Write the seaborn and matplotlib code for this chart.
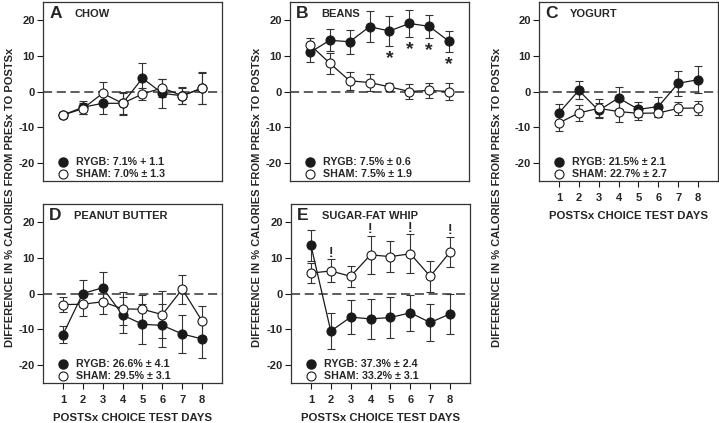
import pandas as pd
import matplotlib.pyplot as plt
import seaborn as sns

sns.set_style("ticks")
plt.rcParams['font.family'] = ['Liberation Sans', 'DejaVu Sans']
plt.rcParams['font.weight'] = 'bold'
plt.rcParams['axes.labelweight'] = 'bold'
plt.rcParams['axes.unicode_minus'] = False

days = [1, 2, 3, 4, 5, 6, 7, 8]
ylabel = "DIFFERENCE IN % CALORIES FROM PRESx TO POSTSx"
xlabel = "POSTSx CHOICE TEST DAYS"

# A - chow
chow_rygb = [-6.6, -4.4, -3.3, -3.3, 3.7, -0.5, -1.2, 0.9]
chow_rygb_sem = [0.8, 1.8, 3.0, 3.0, 4.3, 4.0, 2.4, 4.4]
chow_sham = [-6.6, -4.8, -0.5, -3.3, -0.7, 1.0, -1.2, 1.0]
chow_sham_sem = [0.8, 1.5, 3.2, 3.2, 1.8, 2.6, 2.2, 4.5]

# B - beans
beans_rygb = [10.9, 14.3, 13.9, 18.1, 16.9, 19.0, 18.2, 14.0]
beans_rygb_sem = [2.7, 3.1, 3.4, 4.3, 4.2, 3.8, 3.2, 2.9]
beans_sham = [13.1, 7.9, 3.0, 2.5, 1.3, 0.0, 0.3, 0.0]
beans_sham_sem = [1.8, 2.9, 2.5, 2.3, 1.2, 2.1, 2.0, 2.4]
beans_stars = [5, 6, 7, 8]

# C - yogurt
yog_rygb = [-6.0, 0.3, -5.3, -1.8, -5.0, -4.2, 2.3, 3.3]
yog_rygb_sem = [2.4, 2.5, 2.0, 3.0, 2.0, 2.8, 3.5, 3.8]
yog_sham = [-8.8, -6.0, -4.7, -5.6, -6.1, -6.0, -4.7, -4.6]
yog_sham_sem = [2.3, 2.3, 2.5, 3.0, 2.0, 1.2, 1.8, 2.0]

# D - peanut butter
pb_rygb = [-11.5, 0.0, 1.6, -6.0, -8.6, -8.9, -11.3, -12.7]
pb_rygb_sem = [2.3, 3.9, 4.5, 5.0, 5.6, 6.0, 5.3, 5.3]
pb_sham = [-3.1, -3.0, -2.3, -4.3, -4.4, -5.9, 1.2, -7.7]
pb_sham_sem = [2.1, 3.4, 3.3, 4.6, 3.9, 6.5, 4.0, 4.2]

# E - sugar-fat whip
sfw_rygb = [13.5, -10.5, -6.6, -7.1, -6.7, -5.4, -8.1, -5.7]
sfw_rygb_sem = [4.3, 5.0, 4.8, 5.7, 5.8, 5.0, 5.1, 5.5]
sfw_sham = [5.7, 6.3, 4.8, 10.8, 10.3, 11.1, 4.8, 11.6]
sfw_sham_sem = [2.9, 3.2, 3.0, 5.3, 4.4, 5.4, 4.4, 4.2]
sfw_bangs = [2, 4, 6, 8]

panels = [
    dict(letter="A", title="CHOW", rygb=chow_rygb, rygb_sem=chow_rygb_sem,
         sham=chow_sham, sham_sem=chow_sham_sem,
         leg=("RYGB: 7.1% + 1.1", "SHAM: 7.0% \u00b1 1.3"),
         rect=[43, 2], xt=False),
    dict(letter="B", title="BEANS", rygb=beans_rygb, rygb_sem=beans_rygb_sem,
         sham=beans_sham, sham_sem=beans_sham_sem,
         leg=("RYGB: 7.5% \u00b1 0.6", "SHAM: 7.5% \u00b1 1.9"),
         rect=[290, 2], xt=False),
    dict(letter="C", title="YOGURT", rygb=yog_rygb, rygb_sem=yog_rygb_sem,
         sham=yog_sham, sham_sem=yog_sham_sem,
         leg=("RYGB: 21.5% \u00b1 2.1", "SHAM: 22.7% \u00b1 2.7"),
         rect=[539, 2], xt=True),
    dict(letter="D", title="PEANUT BUTTER", rygb=pb_rygb, rygb_sem=pb_rygb_sem,
         sham=pb_sham, sham_sem=pb_sham_sem,
         leg=("RYGB: 26.6% \u00b1 4.1", "SHAM: 29.5% \u00b1 3.1"),
         rect=[43, 204], xt=True),
    dict(letter="E", title="SUGAR-FAT WHIP", rygb=sfw_rygb, rygb_sem=sfw_rygb_sem,
         sham=sfw_sham, sham_sem=sfw_sham_sem,
         leg=("RYGB: 37.3% \u00b1 2.4", "SHAM: 33.2% \u00b1 3.1"),
         rect=[291, 204], xt=True),
]

W, H = 719, 423
fig = plt.figure(figsize=(W / 100, H / 100), dpi=100)
ink = "#1a1a1a"

axes = {}
for p in panels:
    x0, top = p["rect"]
    ax = fig.add_axes([x0 / W, 1 - (top + 179) / H, 179 / W, 179 / H])
    axes[p["letter"]] = ax
    df = pd.DataFrame({"day": days * 2,
                       "value": p["rygb"] + p["sham"],
                       "group": ["RYGB"] * 8 + ["SHAM"] * 8})
    ax.axhline(0, color="#333333", lw=1.1, ls=(0, (6, 3)), zorder=1)
    ax.errorbar(days, p["rygb"], yerr=p["rygb_sem"], fmt="none", ecolor="#333333",
                elinewidth=0.8, capsize=3.2, capthick=0.8, zorder=2)
    ax.errorbar(days, p["sham"], yerr=p["sham_sem"], fmt="none", ecolor="#333333",
                elinewidth=0.8, capsize=3.2, capthick=0.8, zorder=2)
    sns.lineplot(data=df[df.group == "RYGB"], x="day", y="value", ax=ax,
                 color=ink, lw=0.9, marker="o", markersize=6.5,
                 markerfacecolor=ink, markeredgecolor=ink, markeredgewidth=0.8,
                 errorbar=None, zorder=3)
    sns.lineplot(data=df[df.group == "SHAM"], x="day", y="value", ax=ax,
                 color=ink, lw=0.9, marker="o", markersize=6.5,
                 markerfacecolor="white", markeredgecolor=ink, markeredgewidth=0.8,
                 errorbar=None, zorder=4)
    ax.set_xlim(0, 9)
    ax.set_ylim(-25, 25)
    ax.set_yticks([-20, -10, 0, 10, 20])
    ax.set_xticks(days)
    ax.tick_params(axis="both", labelsize=8, length=4, width=0.8, pad=2, color=ink)
    if p["xt"]:
        ax.set_xlabel(xlabel, fontsize=8.2, fontweight="bold", labelpad=6)
        ax.tick_params(axis="x", pad=4.5)
    else:
        ax.tick_params(axis="x", length=0, labelbottom=False)
        ax.set_xlabel("")
    ax.set_ylabel("")
    for s in ax.spines.values():
        s.set_color("#333333")
        s.set_linewidth(0.9)
    ax.text(0.035, 0.975, p["letter"], transform=ax.transAxes, fontsize=12.5,
            fontweight="bold", va="top", ha="left")
    ax.text(0.175, 0.962, p["title"], transform=ax.transAxes, fontsize=8,
            fontweight="bold", va="top", ha="left")
    # legend as text rows
    ax.plot([0.11], [0.108], transform=ax.transAxes, marker="o", ms=6.5,
            mfc=ink, mec=ink, ls="none", clip_on=False)
    ax.plot([0.11], [0.04], transform=ax.transAxes, marker="o", ms=6.5,
            mfc="white", mec=ink, mew=0.8, ls="none", clip_on=False)
    ax.text(0.185, 0.108, p["leg"][0], transform=ax.transAxes, fontsize=7.7,
            fontweight="bold", va="center", ha="left")
    ax.text(0.185, 0.04, p["leg"][1], transform=ax.transAxes, fontsize=7.7,
            fontweight="bold", va="center", ha="left")

# significance marks
axB = axes["B"]
for d in beans_stars:
    i = d - 1
    axB.text(d, beans_rygb[i] - beans_rygb_sem[i] - 3.6, "*", fontsize=14,
             fontweight="bold", ha="center", va="center")
axE = axes["E"]
for d in sfw_bangs:
    i = d - 1
    axE.text(d, sfw_sham[i] + sfw_sham_sem[i] + 1.9, "!", fontsize=10,
             fontweight="bold", ha="center", va="center")

for x in [10, 257, 497]:
    fig.text(x / W, 1 - 197 / H, ylabel, rotation=90, fontsize=8,
             fontweight="bold", ha="center", va="center")

fig.savefig("out.png", dpi=100)
